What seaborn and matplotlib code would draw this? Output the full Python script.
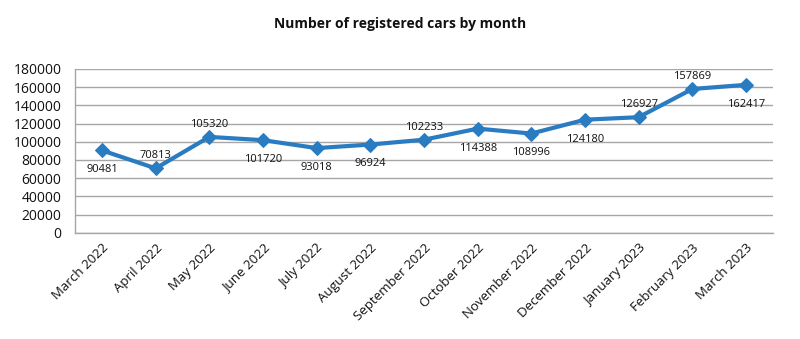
import matplotlib
matplotlib.use("Agg")
import matplotlib.pyplot as plt
import seaborn as sns
import pandas as pd

months = ["March 2022", "April 2022", "May 2022", "June 2022", "July 2022",
          "August 2022", "September 2022", "October 2022", "November 2022",
          "December 2022", "January 2023", "February 2023", "March 2023"]
cars = [90481, 70813, 105320, 101720, 93018, 96924, 102233, 114388,
        108996, 124180, 126927, 157869, 162417]
label_above = [False, True, True, False, False, False, True, False,
               False, False, True, True, False]
yticks = [0, 20000, 40000, 60000, 80000, 100000, 120000, 140000, 160000, 180000]

sns.set_theme(style="white")
plt.rcParams['font.family'] = ['Open Sans', 'DejaVu Sans']

df = pd.DataFrame({"month": months, "cars": cars})
df["x"] = range(len(months))

fig, ax = plt.subplots(figsize=(8, 3.39), dpi=100)
fig.subplots_adjust(left=0.094, right=0.966, top=0.797, bottom=0.313)

color = "#2a7cc2"
sns.lineplot(data=df, x="x", y="cars", ax=ax, color=color, linewidth=3,
             marker="D", markersize=7, markeredgecolor=color)

for xi, v, up in zip(df["x"], cars, label_above):
    ax.annotate(str(v), (xi, v), xytext=(0, 5 if up else -10),
                textcoords="offset points", ha="center",
                va="bottom" if up else "top", fontsize=8, color="#111111")

ax.set_xlim(-0.5, len(months) - 0.5)
ax.set_ylim(0, 180000)
ax.set_yticks(yticks)
ax.set_yticklabels([str(t) for t in yticks], fontsize=10, color="#111111")
ax.set_xticks(df["x"])
ax.set_xticklabels(months, rotation=45, ha="right", rotation_mode="anchor",
                   fontsize=9.5, color="#111111")
ax.tick_params(axis="x", pad=6, length=0)
ax.tick_params(axis="y", pad=10, length=0)
ax.set_xlabel("")
ax.set_ylabel("")
ax.grid(axis="y", color="#a6a6a6", linewidth=1)
ax.set_axisbelow(True)
for s in ["top", "right"]:
    ax.spines[s].set_visible(False)
for s in ["left", "bottom"]:
    ax.spines[s].set_color("#a6a6a6")
    ax.spines[s].set_linewidth(1)

fig.text(0.5, 0.93, "Number of registered cars by month", ha="center",
         va="center", fontsize=10, fontweight="bold", color="#111111")

fig.savefig("out.png", dpi=100)
